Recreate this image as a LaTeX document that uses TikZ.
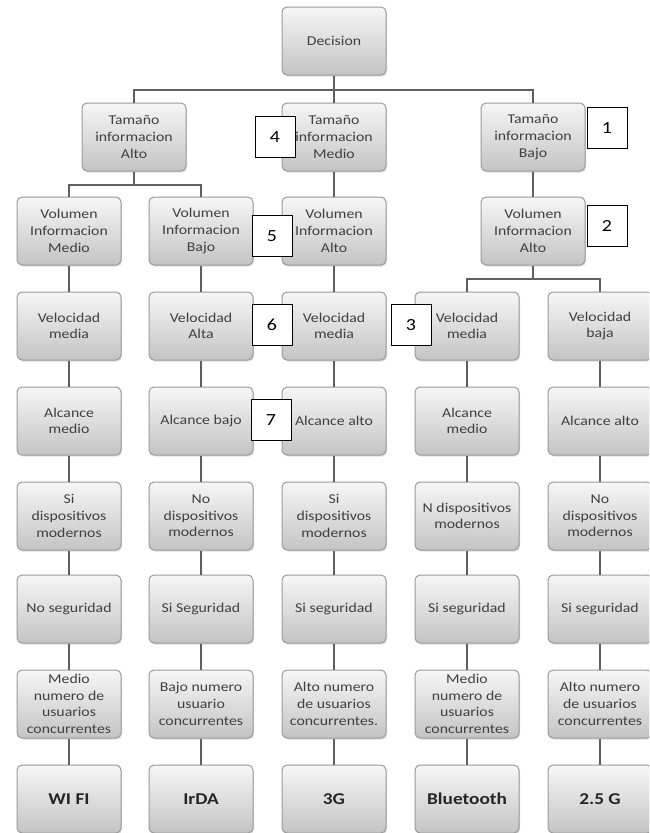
\documentclass[tikz,border=0pt]{standalone}
\usepackage{fontspec}
\setmainfont{Carlito}[FakeStretch=1.17]
\usetikzlibrary{shadows}
\definecolor{boxtop}{HTML}{F6F6F6}
\definecolor{boxbot}{HTML}{C4C4C4}
\definecolor{boxline}{HTML}{9A9A9A}
\definecolor{wirec}{HTML}{5F5F5F}
\definecolor{txt}{HTML}{404040}
\tikzset{
 box/.style={rounded corners=5pt, draw=boxline, line width=1pt, top color=boxtop, bottom color=boxbot,
   minimum width=104pt, minimum height=68pt, inner sep=0pt, align=center, text=txt,
   font=\fontsize{13.5}{16.7}\selectfont,
   drop shadow={opacity=0.25, shadow xshift=1pt, shadow yshift=-1.5pt}},
 endbox/.style={box, text=black!85, font=\fontsize{16.5}{20}\selectfont\bfseries},
 tag/.style={draw=black, fill=white, line width=0.9pt, minimum width=40pt, minimum height=41pt,
   inner sep=0pt, font=\fontsize{17}{20}\selectfont},
 wire/.style={draw=wirec, line width=2pt}
}
\begin{document}
\begin{tikzpicture}[x=1pt,y=-1pt]
\useasboundingbox (0,0) rectangle (649,833);
\fill[white] (0,0) rectangle (649,833);
\clip (0,0) rectangle (649,833);
% row 1-3
\node[box] (dec) at (334,41) {Decision};
\node[box] (tA) at (134,137) {Tamaño\\informacion\\Alto};
\node[box] (tB) at (334,137) {Tamaño\\informacion\\Medio};
\node[box] (tC) at (533,137) {Tamaño\\informacion\\Bajo};
\node[box] (v1) at (69,231) {Volumen\\Informacion\\Medio};
\node[box] (v2) at (201,231) {Volumen\\Informacion\\Bajo};
\node[box] (v3) at (334,231) {Volumen\\Informacion\\Alto};
\node[box] (vC) at (533,231) {Volumen\\Informacion\\Alto};
% velocidad
\node[box] (s1) at (69,326) {Velocidad\\media};
\node[box] (s2) at (201,326) {Velocidad\\Alta};
\node[box] (s3) at (334,326) {Velocidad\\media};
\node[box] (s4) at (467,326) {Velocidad\\media};
\node[box] (s5) at (600,326) {Velocidad\\baja};
% alcance
\node[box] (a1) at (69,421) {Alcance\\medio};
\node[box] (a2) at (201,421) {Alcance bajo};
\node[box] (a3) at (334,421) {Alcance alto};
\node[box] (a4) at (467,421) {Alcance\\medio};
\node[box] (a5) at (600,421) {Alcance alto};
% dispositivos
\node[box] (d1) at (69,516) {Si\\dispositivos\\modernos};
\node[box] (d2) at (201,516) {No\\dispositivos\\modernos};
\node[box] (d3) at (334,516) {Si\\dispositivos\\modernos};
\node[box] (d4) at (467,516) {N dispositivos\\modernos};
\node[box] (d5) at (600,516) {No\\dispositivos\\modernos};
% seguridad
\node[box] (g1) at (69,609) {No seguridad};
\node[box] (g2) at (201,609) {Si Seguridad};
\node[box] (g3) at (334,609) {Si seguridad};
\node[box] (g4) at (467,609) {Si seguridad};
\node[box] (g5) at (600,609) {Si seguridad};
% usuarios
\node[box] (u1) at (69,704) {Medio\\numero de\\usuarios\\concurrentes};
\node[box] (u2) at (201,704) {Bajo numero\\usuario\\concurrentes};
\node[box] (u3) at (334,704) {Alto numero\\de usuarios\\concurrentes.};
\node[box] (u4) at (467,704) {Medio\\numero de\\usuarios\\concurrentes};
\node[box] (u5) at (600,704) {Alto numero\\de usuarios\\concurrentes};
% final
\node[endbox] (f1) at (69,799) {WI FI};
\node[endbox] (f2) at (201,799) {IrDA};
\node[endbox] (f3) at (334,799) {3G};
\node[endbox] (f4) at (467,799) {Bluetooth};
\node[endbox] (f5) at (600,799) {2.5 G};
% connectors
\coordinate (bar1) at (334,90);
\coordinate (bar2) at (134,185);
\coordinate (bar3) at (533,279);
\draw[wire] (dec.south) -- (bar1);
\draw[wire] (tA.north) |- (bar1) -| (tC.north);
\draw[wire] (bar1) -- (tB.north);
\draw[wire] (tA.south) -- (bar2);
\draw[wire] (v1.north) |- (bar2) -| (v2.north);
\draw[wire] (tB.south) -- (v3.north);
\draw[wire] (tC.south) -- (vC.north);
\draw[wire] (vC.south) -- (bar3);
\draw[wire] (s4.north) |- (bar3) -| (s5.north);
\draw[wire] (v1.south) -- (s1.north);
\draw[wire] (v2.south) -- (s2.north);
\draw[wire] (v3.south) -- (s3.north);
\foreach \i in {1,...,5}{
  \draw[wire] (s\i.south) -- (a\i.north);
  \draw[wire] (a\i.south) -- (d\i.north);
  \draw[wire] (d\i.south) -- (g\i.north);
  \draw[wire] (g\i.south) -- (u\i.north);
  \draw[wire] (u\i.south) -- (f\i.north);
}
% tags
\node[tag] (t1) at (607,128) {1};
\node[tag] (t2) at (607,226) {2};
\node[tag] (t3) at (411,325) {3};
\node[tag] (t4) at (275,137) {4};
\node[tag] (t5) at (272,236) {5};
\node[tag] (t6) at (272,325) {6};
\node[tag] (t7) at (271,420) {7};
\end{tikzpicture}
\end{document}
